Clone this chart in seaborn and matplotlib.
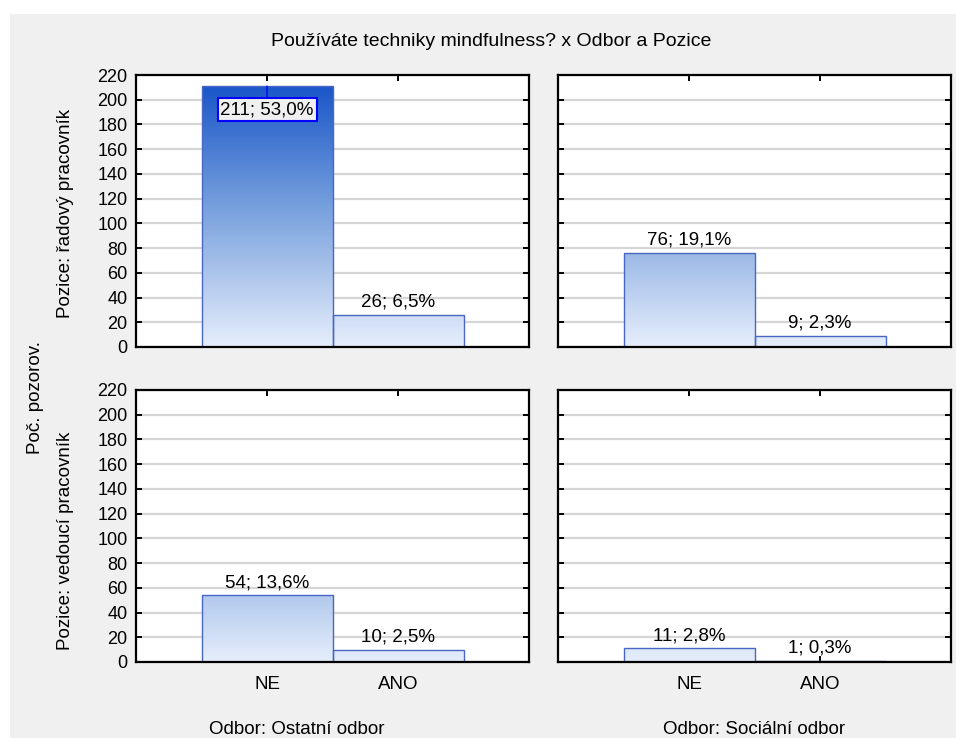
import numpy as np
import pandas as pd
import matplotlib.pyplot as plt
import matplotlib.patches as mpatches
from matplotlib.colors import LinearSegmentedColormap
import seaborn as sns

# data
odpovedi = ["NE", "ANO"]
odbory = ["Ostatní odbor", "Sociální odbor"]
pozice = ["řadový pracovník", "vedoucí pracovník"]
radovy_ostatni = [211, 26]
radovy_socialni = [76, 9]
vedouci_ostatni = [54, 10]
vedouci_socialni = [11, 1]

rows = []
for poz, odb, vals in [(pozice[0], odbory[0], radovy_ostatni),
                       (pozice[0], odbory[1], radovy_socialni),
                       (pozice[1], odbory[0], vedouci_ostatni),
                       (pozice[1], odbory[1], vedouci_socialni)]:
    for odp, v in zip(odpovedi, vals):
        rows.append({"Pozice": poz, "Odbor": odb, "Odpoved": odp, "Pocet": v})
df = pd.DataFrame(rows)
total = df["Pocet"].sum()

sns.set_style("white")
plt.rcParams["font.family"] = ["Liberation Sans", "DejaVu Sans"]
plt.rcParams["font.size"] = 13.5
plt.rcParams["text.color"] = "black"
plt.rcParams["xtick.color"] = "black"
plt.rcParams["ytick.color"] = "black"

W, H = 956, 738
fig = plt.figure(figsize=(W / 100, H / 100), dpi=100, facecolor="white")
# grey panel background
fig.patches.append(mpatches.Rectangle((10 / W, 0), 1, (H - 14) / H, transform=fig.transFigure,
                                      facecolor="#f0f0f0", edgecolor="none", zorder=-10))

cmap = LinearSegmentedColormap.from_list("bars", ["#e6eefb", "#7aa2de", "#1150c6"])
grad = np.linspace(0, 1, 256).reshape(-1, 1)

lefts = [136, 558]
tops = [75, 390]
aw, ah = 393, 272

for r, poz in enumerate(pozice):
    for c, odb in enumerate(odbory):
        ax = fig.add_axes([lefts[c] / W, (H - tops[r] - ah) / H, aw / W, ah / H])
        ax.set_facecolor("white")
        sub = df[(df["Pozice"] == poz) & (df["Odbor"] == odb)]
        sns.barplot(data=sub, x="Odpoved", y="Pocet", order=odpovedi, width=1,
                    facecolor="none", edgecolor="#4a66c4", linewidth=1, ax=ax, zorder=3)
        # gradient fill clipped to each bar
        for p in ax.patches:
            im = ax.imshow(grad, extent=[-1, 2, 0, 220], origin="lower", cmap=cmap,
                           aspect="auto", zorder=2, interpolation="bilinear")
            im.set_clip_path(p)
        ax.set_xlim(-1, 2)
        ax.set_ylim(0, 220)
        ax.set_yticks(np.arange(0, 221, 20))
        ax.yaxis.grid(True, color="#d6d6d6", linewidth=1.6)
        ax.set_axisbelow(True)
        for s in ax.spines.values():
            s.set_visible(True)
            s.set_linewidth(1.6)
            s.set_color("black")
            s.set_zorder(5)
        ax.tick_params(direction="in", length=4, width=1.4, top=True, right=True,
                       left=True, bottom=True, labelsize=13)
        ax.tick_params(axis="y", pad=6)
        ax.tick_params(axis="x", pad=10, labelsize=13.5)
        ax.set_xlabel("")
        ax.set_ylabel("")
        if c == 1:
            ax.set_yticklabels([])
        if r == 0:
            ax.set_xticklabels([])

        for i, v in enumerate(sub.set_index("Odpoved").loc[odpovedi, "Pocet"]):
            lab = f"{v}; {100 * v / total:.1f}%".replace(".", ",")
            if v > 200:
                ax.annotate(lab, xy=(i, v), xytext=(0, -17), textcoords="offset points",
                            ha="center", va="center", fontsize=13.5, zorder=6,
                            bbox=dict(boxstyle="square,pad=0.15", facecolor="#f0f0f0",
                                      edgecolor="#0000ff", linewidth=1.5),
                            arrowprops=dict(arrowstyle="-", color="#0000ff", linewidth=1,
                                            shrinkA=0, shrinkB=0))
            else:
                ax.annotate(lab, xy=(i, v), xytext=(0, 3), textcoords="offset points",
                            ha="center", va="bottom", fontsize=13.5, zorder=6)

fig.text(491 / W, 1 - 42 / H, "Používáte techniky mindfulness? x Odbor a Pozice",
         ha="center", va="center", fontsize=14)
fig.text(66 / W, 1 - 213 / H, "Pozice: řadový pracovník", rotation=90,
         ha="center", va="center", fontsize=13.5)
fig.text(66 / W, 1 - 541 / H, "Pozice: vedoucí pracovník", rotation=90,
         ha="center", va="center", fontsize=13.5)
fig.text(35 / W, 1 - 397 / H, "Poč. pozorov.", rotation=90,
         ha="center", va="center", fontsize=13.5)
fig.text(297 / W, 1 - 729 / H, "Odbor: Ostatní odbor", ha="center", va="center", fontsize=13.5)
fig.text(754 / W, 1 - 729 / H, "Odbor: Sociální odbor", ha="center", va="center", fontsize=13.5)

fig.savefig("out.png", dpi=100, facecolor=fig.get_facecolor())
